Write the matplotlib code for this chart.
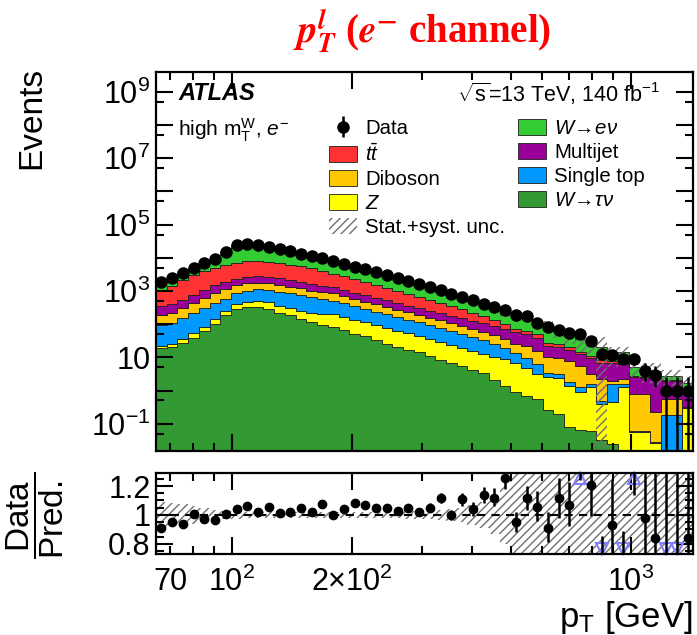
import numpy as np
import matplotlib
matplotlib.use("Agg")
import matplotlib.pyplot as plt
from matplotlib.patches import Patch
from matplotlib.ticker import FixedLocator, FixedFormatter, NullFormatter

plt.rcParams["font.family"] = ["Liberation Sans", "DejaVu Sans"]
plt.rcParams["mathtext.fontset"] = "custom"
plt.rcParams["mathtext.rm"] = "Liberation Sans"
plt.rcParams["mathtext.it"] = "Liberation Sans:italic"
plt.rcParams["mathtext.bf"] = "Liberation Sans:bold"
plt.rcParams["hatch.linewidth"] = 1.0

# lepton pT binning (log-spaced)
edges = np.geomspace(64.5, 1430.0, 51)

data = [1905, 2512, 3388, 4786, 6761, 9120, 15490, 25120, 26300, 23990,
        20890, 18200, 15850, 13490, 11220, 9550, 7940, 6610, 5370, 4470,
        3720, 3020, 2450, 1995, 1622, 1288, 1047, 832, 661, 525,
        417, 331, 263, 191, 182, 109, 82, 69, 55, 51,
        31, 13, 12, 9, 9, 4, 3, 1, 1, 1]

w_enu = [1015, 1181, 1493, 1773, 2955, 4452, 9506, 16800, 16660, 15370,
         12420, 10750, 9224, 7282, 5971, 5014, 4616, 3543, 2763, 2298,
         1996, 1619, 1371, 1069, 906, 689, 493, 482, 318, 280,
         187, 161, 108, 127, 98, 53, 63, 36, 30.9, 20.7,
         14.7, 11.8, 4.8, 7.2, 2.47, 1.58, 1.30, 0.75, 0.75, 0.57]

ttbar = [732, 1048, 1597, 2251, 2889, 3475, 4079, 4903, 5325, 5260,
         4970, 4638, 4128, 3693, 3367, 2450, 1997, 1660, 1350, 1123,
         931, 747, 597, 478, 381, 299, 229, 174, 128, 96,
         70, 45.5, 27.4, 14.9, 13.1, 10.1, 5.6, 5.2, 4.2, 2.5,
         1.6, 1.2, 0.85, 0.76, 0.30, 0.22, 0.22, 0.19, 0.19, 0.05]

multijet = [158, 185, 236, 332, 469, 659, 754, 777, 866, 1034,
            866, 879, 786, 700, 596, 533, 489, 407, 330, 275,
            228, 191, 159, 132, 110, 89, 80, 70, 62, 53,
            46, 42, 38, 32, 29.6, 23.2, 11.6, 11.0, 8.4, 6.8,
            6.3, 4.7, 5.0, 4.0, 1.69, 1.58, 2.15, 1.32, 1.32, 0.71]

diboson = [87, 107, 152, 214, 300, 425, 572, 659, 696, 653,
           624, 557, 497, 443, 377, 350, 333, 277, 225, 187,
           156, 129, 108, 89, 74, 60, 54, 43, 38, 30,
           26, 21.5, 16.8, 12.8, 11.8, 9.3, 6.9, 6.3, 6.0, 4.3,
           1.55, 1.7, 0.40, 0.64, 0.73, 0.73, 0.196, 0.38, 0.38, 0.014]

single_top = [75, 83, 117, 161, 222, 283, 325, 454, 542, 620,
              614, 615, 550, 508, 433, 364, 305, 254, 207, 172,
              142, 121, 100, 83, 71, 57, 48, 39, 31, 26,
              21, 14.6, 9.85, 6.2, 4.75, 3.07, 0.83, 0.75, 0.36, 0.36,
              0.32, 0.10, 1.12, 0.32, 0.004, 0.004, 0.002, 0.178, 0.178, 0.015]

z_jets = [3.3, 5.2, 8.7, 16, 21, 46, 70, 110, 141, 186,
          169, 126, 121, 107, 100, 105, 118, 101, 85, 70,
          61, 51, 43, 36, 30, 25, 21, 17, 14, 11.6,
          9.6, 8.4, 7.35, 6.0, 4.1, 2.56, 2.34, 2.17, 1.32, 0.82,
          1.19, 0.36, 0.42, 1.25, 0.057, 0.057, 0.0265, 0, 0, 0.30]

w_taunu = [18.6, 20.4, 27.5, 38.7, 61, 101, 184, 291, 319, 319,
           291, 216, 184, 147, 116, 97, 85, 68, 52, 44,
           34, 26, 21, 17, 14, 10.7, 8.6, 6.8, 5.3, 4.2,
           3.3, 2.1, 1.4, 0.88, 0.70, 0.56, 0.25, 0.20, 0.08, 0.063,
           0.06, 0.032, 0.025, 0, 0, 0, 0, 0, 0, 0]

# relative stat.+syst. uncertainty on the prediction
pred_unc = [0.09, 0.085, 0.075, 0.06, 0.045, 0.035, 0.028, 0.025, 0.022, 0.02,
            0.02, 0.02, 0.02, 0.022, 0.022, 0.022, 0.022, 0.022, 0.022, 0.022,
            0.022, 0.022, 0.022, 0.025, 0.025, 0.03, 0.035, 0.04, 0.05, 0.07,
            0.09, 0.13, 0.2, 0.3, 0.35, 0.3, 0.35, 0.4, 0.5, 0.6,
            0.5, 1.0, 0.6, 0.45, 0.5, 0.6, 0.7, 0.5, 0.5, 0.6]

# data / prediction
ratio = [0.913, 0.954, 0.936, 1.005, 0.972, 0.966, 1.005, 1.04, 1.062, 1.023,
         1.057, 1.016, 1.023, 1.046, 1.023, 1.074, 1.0, 1.04, 1.08, 1.07,
         1.05, 1.05, 1.03, 1.05, 1.02, 1.05, 1.12, 1.0, 1.108, 1.04,
         1.138, 1.12, 1.257, 0.95, 1.115, 1.057, 0.913, 1.115, 1.07, 1.44,
         1.207, 0.65, 0.93, 0.64, 1.71, 0.98, 0.84, 0.5, 0.5, 0.844]

# bottom -> top
stack = [
    (w_taunu, "#339933", r"$W\!\rightarrow\!\tau\nu$"),
    (z_jets, "#ffff00", r"$Z$"),
    (single_top, "#0099ff", "Single top"),
    (diboson, "#ffc800", "Diboson"),
    (multijet, "#990099", "Multijet"),
    (ttbar, "#ff3333", r"$t\bar{t}$"),
    (w_enu, "#33cc33", r"$W\!\rightarrow\!e\nu$"),
]

W, H = 697, 635
fig = plt.figure(figsize=(W / 100, H / 100), dpi=100)
ax = fig.add_axes([156 / W, 1 - 451 / H, 537 / W, 379 / H])
rax = fig.add_axes([156 / W, 1 - 554 / H, 537 / W, 81 / H])

floor = 1e-4
centers = np.sqrt(edges[:-1] * edges[1:])
bottom = np.zeros(len(data))
patches = {}
for vals, col, lab in stack:
    top = bottom + np.asarray(vals, float)
    ax.stairs(np.maximum(top, floor), edges, baseline=np.maximum(bottom, floor),
              fill=True, facecolor=col, edgecolor="#1e1e1e", linewidth=0.6)
    patches[lab] = Patch(facecolor=col, edgecolor="#1e1e1e", linewidth=0.6)
    bottom = top
total = bottom
unc = np.asarray(pred_unc)

ax.stairs(total * (1 + unc), edges, baseline=np.maximum(total * (1 - unc), floor),
          fill=True, facecolor="none", edgecolor="#707070", hatch="////", linewidth=0)

n = np.asarray(data, float)
up = np.sqrt(n + 0.25) + 0.5
dn = np.minimum(np.sqrt(n), n - floor)
dat = ax.errorbar(centers, n, yerr=[dn, up], fmt="o", color="black", ms=8,
                  elinewidth=1.8, capsize=0, zorder=5)

ax.set_xscale("log")
ax.set_yscale("log")
ax.set_xlim(edges[0], edges[-1])
ax.set_ylim(0.015, 4e9)
ax.yaxis.set_major_locator(FixedLocator([10.0 ** k for k in range(-1, 10)]))
ax.yaxis.set_major_formatter(FixedFormatter(
    [r"$10^{-1}$", "", r"$10$", "", r"$10^{3}$", "", r"$10^{5}$", "", r"$10^{7}$", "", r"$10^{9}$"]))
ax.yaxis.set_minor_locator(FixedLocator([5 * 10.0 ** k for k in range(-2, 10)]))
ax.yaxis.set_minor_formatter(NullFormatter())

# ratio panel
r = np.asarray(ratio)
rax.stairs(1 + unc, edges, baseline=1 - unc, fill=True, facecolor="none",
           edgecolor="#707070", hatch="////", linewidth=0)
rax.axhline(1.0, color="black", ls=(0, (4, 3)), lw=1.5)
rax.errorbar(centers, r, yerr=[r * dn / n, r * up / n], fmt="o", color="black",
             ms=6, elinewidth=1.8, capsize=0, zorder=5)
rlo, rhi = 0.73, 1.29
hi = r > rhi
lo = r < rlo
rax.plot(centers[hi], np.full(hi.sum(), rhi - 0.035), ls="none", marker="^",
         mfc="none", mec="#7f7fff", ms=8, mew=1.5, clip_on=False)
rax.plot(centers[lo], np.full(lo.sum(), rlo + 0.035), ls="none", marker="v",
         mfc="none", mec="#7f7fff", ms=8, mew=1.5, clip_on=False)
rax.set_xscale("log")
rax.set_xlim(edges[0], edges[-1])
rax.set_ylim(rlo, rhi)
rax.yaxis.set_major_locator(FixedLocator([0.8, 1.0, 1.2]))
rax.yaxis.set_major_formatter(FixedFormatter(["0.8", "1", "1.2"]))
rax.yaxis.set_minor_locator(FixedLocator([0.75, 0.85, 0.9, 0.95, 1.05, 1.1, 1.15, 1.25]))

minor_x = [70, 80, 90, 300, 400, 500, 600, 700, 800, 900]
for a in (ax, rax):
    a.xaxis.set_major_locator(FixedLocator([100, 200, 1000]))
    a.xaxis.set_minor_locator(FixedLocator(minor_x))
    a.tick_params(which="both", direction="in", top=True, right=True, width=1.5,
                  labelsize=22, pad=4)
    a.tick_params(which="major", length=12)
    a.tick_params(which="minor", length=6)
    for s in a.spines.values():
        s.set_linewidth(1.6)
ax.xaxis.set_major_formatter(NullFormatter())
ax.xaxis.set_minor_formatter(NullFormatter())
rax.xaxis.set_major_formatter(FixedFormatter([r"$10^{2}$", r"$2{\times}10^{2}$", r"$10^{3}$"]))
rax.xaxis.set_minor_formatter(FixedFormatter(["70"] + [""] * 9))
rax.tick_params(axis="x", which="both", pad=9)

# labels
fig.text(32 / W, 1 - 67 / H, "Events", rotation=90, ha="center", va="top", fontsize=24)
fig.text(35 / W, 1 - 515 / H, r"$\dfrac{\mathrm{Data}}{\mathrm{Pred.}}$", rotation=90,
         ha="center", va="center", fontsize=24)
fig.text(693 / W, 1 - 617 / H, r"p$_\mathrm{T}$ [GeV]", ha="right", va="center", fontsize=25)

fig.text(178 / W, 1 - 94 / H, "ATLAS", fontsize=17, fontweight="bold", style="italic", va="center")
fig.text(660 / W, 1 - 94 / H, r"$\sqrt{\mathrm{s}}$=13 TeV, 140 fb$^{-1}$", fontsize=15.5,
         ha="right", va="center")
fig.text(178 / W, 1 - 130 / H, r"high m$_\mathrm{T}^\mathrm{W}$, $e^{-}$", fontsize=15, va="center")

fig.text(422 / W, 1 - 32 / H,
         r"$\mathbfit{p}_{\mathbfit{T}}^{\mathbfit{l}}$ ($\mathbfit{e}^{\mathbf{-}}$ channel)",
         color="red", fontsize=28, fontweight="bold", family="Liberation Serif",
         math_fontfamily="stix", ha="center", va="center")

unc_patch = Patch(facecolor="none", edgecolor="#707070", hatch="////", linewidth=0)
handles = [dat, patches[r"$t\bar{t}$"], patches["Diboson"], patches[r"$Z$"], unc_patch,
           patches[r"$W\!\rightarrow\!e\nu$"], patches["Multijet"], patches["Single top"],
           patches[r"$W\!\rightarrow\!\tau\nu$"]]
labels = ["Data", r"$t\bar{t}$", "Diboson", r"$Z$", "Stat.+syst. unc.",
          r"$W\!\rightarrow\!e\nu$", "Multijet", "Single top", r"$W\!\rightarrow\!\tau\nu$"]
ax.legend(handles, labels, ncol=2, loc="upper left", bbox_to_anchor=(329 / W, 1 - 119 / H),
          bbox_transform=fig.transFigure, frameon=False, fontsize=14.7, handlelength=1.37,
          handleheight=0.83, handletextpad=0.4, labelspacing=0.24, columnspacing=0.62,
          borderpad=0, borderaxespad=0)

fig.savefig("out.png", dpi=100)
